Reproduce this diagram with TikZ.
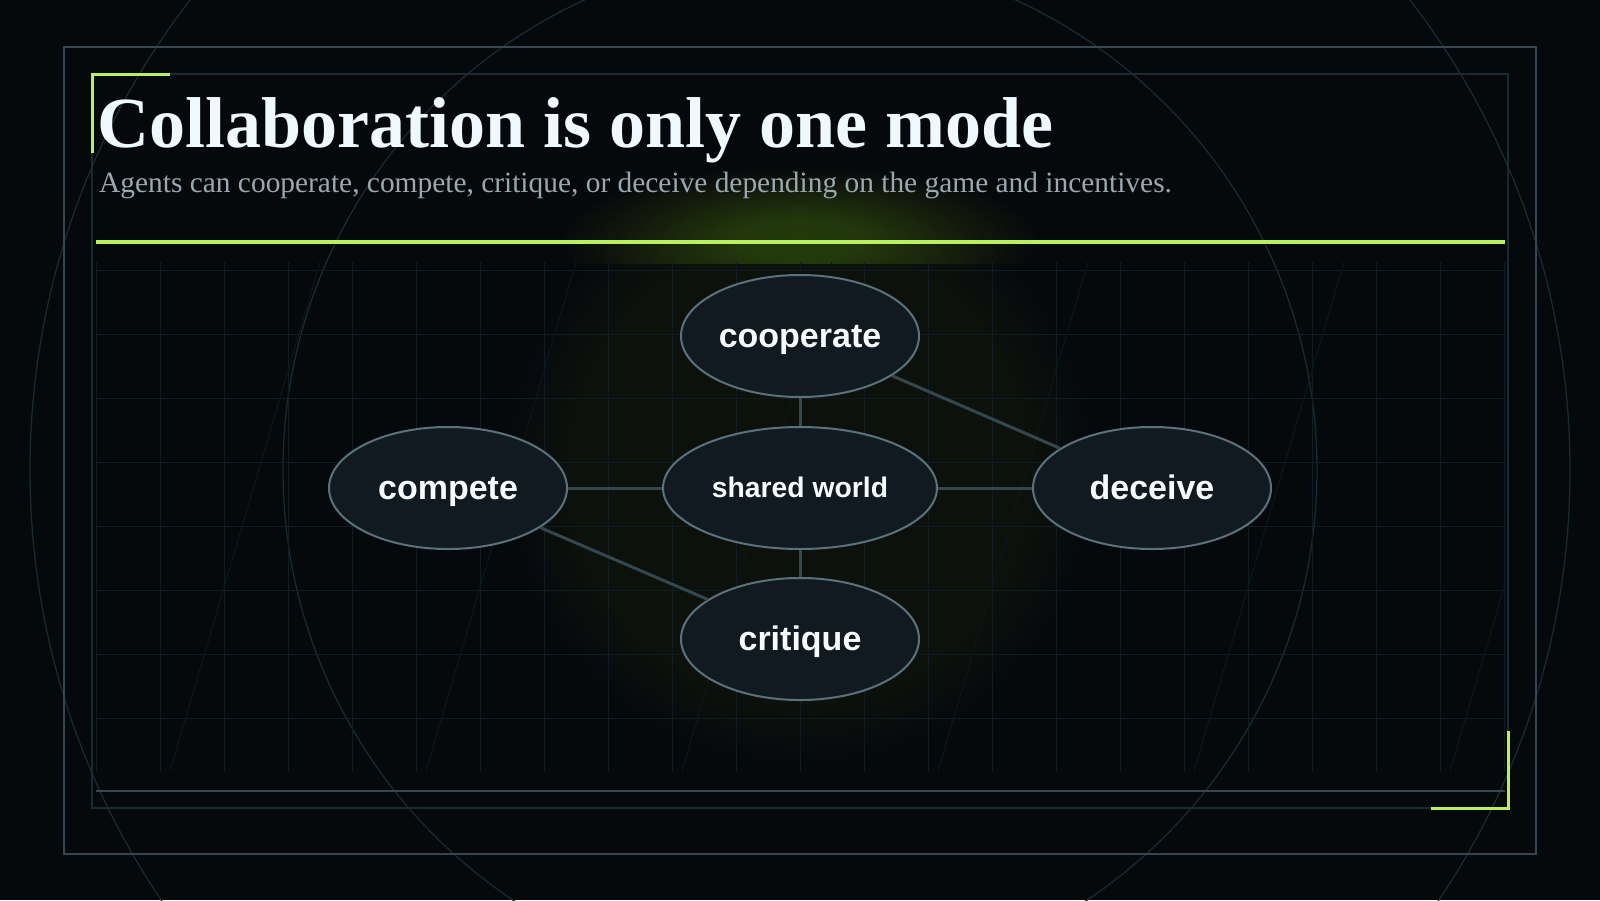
\documentclass[tikz,border=0pt]{standalone}
\usepackage{fontspec}
\setmainfont{Liberation Serif}
\newfontfamily\labelfont{Liberation Sans}
\usetikzlibrary{shapes.geometric}

\definecolor{bgdark}{HTML}{05090C}
\definecolor{framecol}{HTML}{34474F}
\definecolor{innercol}{HTML}{1B2931}
\definecolor{gridcol}{HTML}{111C22}
\definecolor{diagcol}{HTML}{0D161B}
\definecolor{ringcol}{HTML}{1A2930}
\definecolor{limecol}{HTML}{B8F060}
\definecolor{nodefill}{HTML}{111A20}
\definecolor{nodeedge}{HTML}{5B717C}
\definecolor{linkcol}{HTML}{34474F}
\definecolor{titlecol}{HTML}{EEF8FD}
\definecolor{subcol}{HTML}{9AA9B1}
\definecolor{nodetext}{HTML}{F6FAFC}

\begin{document}
\begin{tikzpicture}[
    x=1pt, y=-1pt,
    mode/.style={ellipse, draw=nodeedge, fill=nodefill, line width=2pt,
                 minimum width=238pt, minimum height=122pt, inner sep=0pt,
                 text=nodetext, font=\labelfont\bfseries\fontsize{34}{38}\selectfont,
                 text height=31pt, text depth=8pt},
    hub/.style={mode, minimum width=274pt,
                font=\labelfont\bfseries\fontsize{28.3}{32}\selectfont,
                text height=25pt, text depth=7pt},
    link/.style={draw=linkcol, line width=3pt},
    gridline/.style={draw=gridcol, line width=1pt},
    diag/.style={draw=diagcol, line width=1pt},
    ring/.style={draw=ringcol, line width=1.3pt},
    frame/.style={draw=framecol, line width=2pt},
    accent/.style={draw=limecol, line width=3pt},
    heading/.style={inner sep=0pt, anchor=base west, text=titlecol,
                    font=\bfseries\fontsize{72}{80}\selectfont},
    tagline/.style={inner sep=0pt, anchor=base west, text=subcol,
                    font=\fontsize{29.4}{34}\selectfont}
]

    % Page and background
    \useasboundingbox (0,0) rectangle (1600,900);
    \clip (0,0) rectangle (1600,900);
    \fill[bgdark] (0,0) rectangle (1600,900);

    % Glows
    \foreach \k in {0,...,7}
        \fill[limecol, opacity=0.008] (800,470) ellipse [x radius={290-\k*8}, y radius={292-\k*8}];
    \foreach \k in {0,...,11} {
        \fill[limecol, opacity=0.004] (295,250) ellipse [x radius={115-\k*7}, y radius={60-\k*4}];
        \fill[limecol, opacity=0.004] (1305,250) ellipse [x radius={115-\k*7}, y radius={60-\k*4}];
    }
    \begin{scope}
        \clip (96,150) rectangle (1504,263);
        \foreach \k in {0,...,19}
            \fill[limecol, opacity=0.013] (800,240) ellipse [x radius={235-\k*9}, y radius={72-\k*2.6}];
    \end{scope}

    % Rings
    \draw[ring] (800,470) circle [radius=770];
    \draw[ring] (800,470) circle [radius=517];

    % Grid
    \foreach \i in {0,...,22}
        \draw[gridline] ({96+64*\i},262) -- ({96+64*\i},771);
    \foreach \j in {0,...,7}
        \draw[gridline] (96,{270+64*\j}) -- (1504,{270+64*\j});
    \begin{scope}
        \clip (96,262) rectangle (1504,771);
        \foreach \d in {170,426,...,1450}
            \draw[diag] (\d,771) -- ({\d+150},262);
    \end{scope}

    % Frames
    \draw[frame] (64,47) rectangle (1536,854);
    \draw[draw=innercol, line width=2pt] (92,74) rectangle (1508,808);
    \draw[frame] (96,791) -- (1505,791);
    \draw[accent, line width=4.5pt] (96,242) -- (1505,242);
    \draw[accent] (92,153) -- (92,74) -- (170,74);
    \draw[accent] (1508,731) -- (1508,808) -- (1431,808);

    % Title
    \node[heading] (title) at (97,147) {Collaboration is only one mode};
    \node[tagline] (subtitle) at (99,192) {Agents can cooperate, compete, critique, or deceive depending on the game and incentives.};

    % Modes
    \node[hub] (shared) at (800,488) {shared world};
    \node[mode] (cooperate) at (800,336) {cooperate};
    \node[mode] (compete) at (448,488) {compete};
    \node[mode] (deceive) at (1152,488) {deceive};
    \node[mode] (critique) at (800,639) {critique};

    % Links
    \draw[link] (cooperate) -- (shared);
    \draw[link] (compete) -- (shared);
    \draw[link] (shared) -- (deceive);
    \draw[link] (shared) -- (critique);
    \draw[link] (cooperate) -- (deceive);
    \draw[link] (compete) -- (critique);

\end{tikzpicture}
\end{document}
